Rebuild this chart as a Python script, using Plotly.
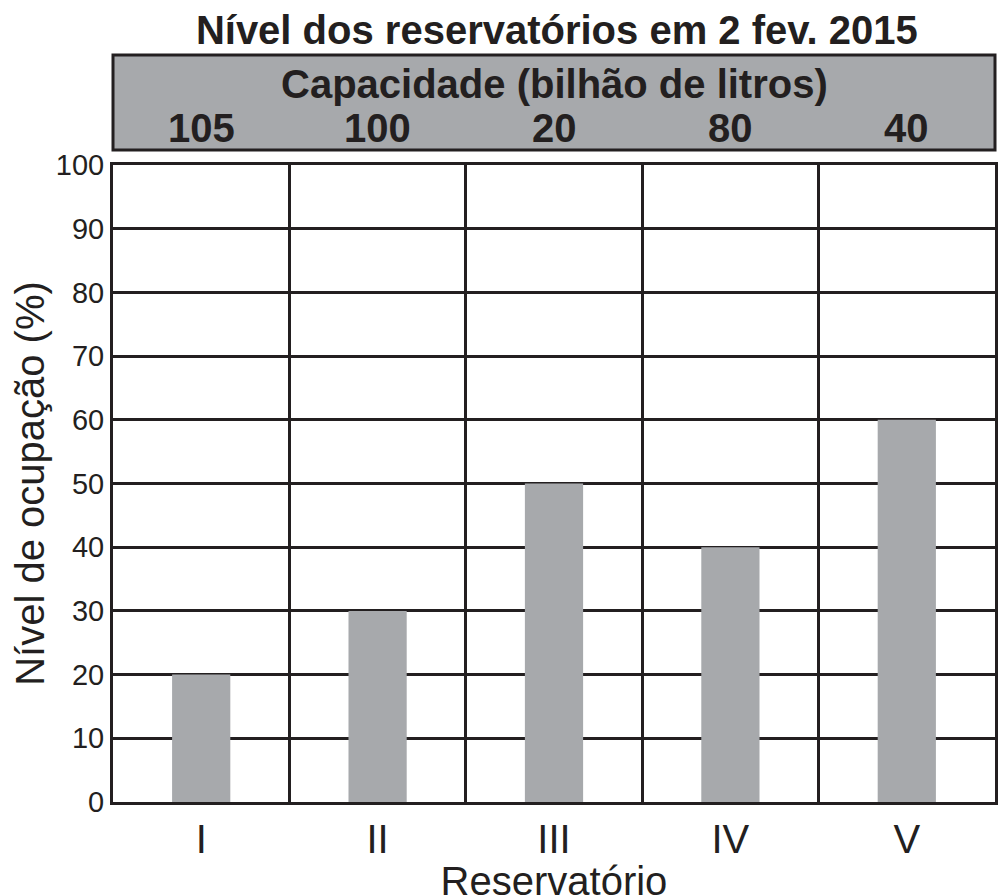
import plotly.graph_objects as go

reservatorios = ["I", "II", "III", "IV", "V"]
ocupacao = [20, 30, 50, 40, 60]
capacidade = ["105", "100", "20", "80", "40"]

pos = [i + 0.5 for i in range(len(reservatorios))]
F = "Liberation Sans, Arial, sans-serif"
C = "#231f20"

fig = go.Figure(go.Bar(x=pos, y=ocupacao, width=0.33, marker=dict(color="#a7a9ac", line=dict(width=0))))

H = 637.0
def py(px):
    return (802 - px) / H

fig.add_shape(type="rect", xref="paper", yref="paper", x0=0, x1=1, y0=py(150), y1=py(55),
              fillcolor="#a7a9ac", line=dict(color=C, width=3), layer="below")
fig.add_annotation(xref="paper", yref="paper", x=0.5, y=py(84), text="<b>Capacidade (bilhão de litros)</b>",
                   showarrow=False, font=dict(family=F, size=40, color=C), yanchor="middle")
for p, c in zip(pos, capacidade):
    fig.add_annotation(xref="x", yref="paper", x=p, y=py(128), text="<b>" + c + "</b>",
                       showarrow=False, font=dict(family=F, size=40, color=C), yanchor="middle")

fig.update_layout(
    width=1007, height=895, margin=dict(l=100, r=20, t=157, b=101),
    plot_bgcolor="white", paper_bgcolor="white", showlegend=False,
    title=dict(text="<b>Nível dos reservatórios em 2 fev. 2015</b>", x=0.545, xanchor="center",
               y=1 - 22 / 895, yanchor="middle", font=dict(family=F, size=40, color=C)),
    xaxis=dict(range=[0, 5], tickvals=pos, ticktext=reservatorios, showgrid=False,
               tickfont=dict(family=F, size=40, color=C), ticks="", ticklen=0,
               minor=dict(tickvals=[0, 1, 2, 3, 4, 5], showgrid=True, gridcolor=C, gridwidth=3),
               showline=True, linecolor=C, linewidth=3, mirror=True,
               title=dict(text="Reservatório", font=dict(family=F, size=40, color=C), standoff=0)),
    yaxis=dict(range=[0, 100], dtick=10, showgrid=True, gridcolor=C, gridwidth=2.5,
               tickfont=dict(family=F, size=29, color=C), ticks="outside", ticklen=0,
               showline=True, linecolor=C, linewidth=3, mirror=True, zeroline=False,
               title=dict(text="Nível de ocupação (%)", font=dict(family=F, size=40, color=C), standoff=8)),
)
fig.write_html("out.html")
